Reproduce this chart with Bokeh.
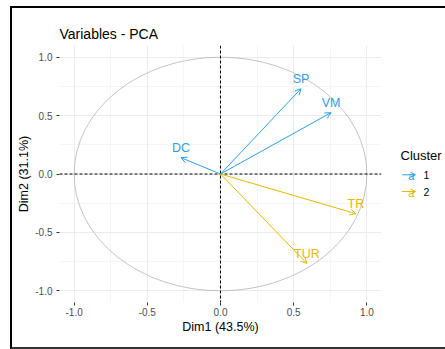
from bokeh.plotting import figure
from bokeh.layouts import row
from bokeh.models import (ColumnDataSource, Arrow, OpenHead, Span,
                          FixedTicker, Range1d)
from bokeh.embed import file_html
from bokeh.resources import INLINE
from bokeh.core.properties import value

# PCA variable coordinates on the first two dimensions
variables = ["SP", "VM", "DC", "TR", "TUR"]
dim1 = [0.55, 0.755, -0.27, 0.925, 0.59]
dim2 = [0.73, 0.525, 0.14, -0.34, -0.765]
cluster = ["1", "1", "1", "2", "2"]

cluster_levels = ["1", "2"]
cluster_colors = ["#2E9FDF", "#E7B800"]

tick_values = [-1.0, -0.5, 0.0, 0.5, 1.0]
tick_labels = ["-1.0", "-0.5", "0.0", "0.5", "1.0"]
minor_values = [-0.75, -0.25, 0.25, 0.75]

FONT = "Liberation Sans"
color_of = dict(zip(cluster_levels, cluster_colors))
colors = [color_of[c] for c in cluster]

src = ColumnDataSource(dict(x=dim1, y=dim2, name=variables, color=colors))

# ---- main panel -------------------------------------------------------
p = figure(frame_width=322, frame_height=257,
           x_range=Range1d(-1.1, 1.1), y_range=Range1d(-1.1, 1.1),
           min_border_left=47, min_border_right=5,
           min_border_top=37, min_border_bottom=45,
           title="Variables - PCA",
           x_axis_label="Dim1 (43.5%)", y_axis_label="Dim2 (31.1%)",
           output_backend="svg", toolbar_location=None)

p.background_fill_color = "white"
p.border_fill_color = "white"
p.outline_line_color = None

p.title.text_font = FONT
p.title.text_font_size = "14px"
p.title.text_font_style = "normal"
p.title.text_color = "black"
p.title.align = "left"
p.title.standoff = 7

labels = dict(zip(tick_values, tick_labels))
for ax in (p.xaxis[0], p.yaxis[0]):
    ax.ticker = FixedTicker(ticks=tick_values)
    ax.major_label_overrides = labels
    ax.axis_line_color = None
    ax.major_tick_in = 0
    ax.major_tick_out = 3
    ax.major_tick_line_color = "#333333"
    ax.major_tick_line_width = 1
    ax.minor_tick_line_color = None
    ax.major_label_text_font = FONT
    ax.major_label_text_font_size = "10px"
    ax.major_label_text_color = "#4d4d4d"
    ax.axis_label_text_font = FONT
    ax.axis_label_text_font_size = "12.5px"
    ax.axis_label_text_font_style = "normal"
    ax.axis_label_text_color = "black"
p.xaxis.major_label_standoff = 2
p.yaxis.major_label_standoff = 4
p.xaxis.axis_label_standoff = 1
p.yaxis.axis_label_standoff = 1

for g in (p.xgrid[0], p.ygrid[0]):
    g.ticker = FixedTicker(ticks=tick_values, minor_ticks=minor_values)
    g.grid_line_color = "#ebebeb"
    g.grid_line_width = 1
    g.minor_grid_line_color = "#f0f0f0"
    g.minor_grid_line_width = 0.7

# correlation circle
p.ellipse(x=0, y=0, width=2, height=2, fill_color=None,
          line_color="#bdbdbd", line_width=0.9)

# reference lines through the origin
for dim in ("width", "height"):
    p.add_layout(Span(location=0, dimension=dim, line_color="black",
                      line_width=1, line_dash="3 2"))

# variable arrows
for x, y, c in zip(dim1, dim2, colors):
    p.add_layout(Arrow(x_start=0, y_start=0, x_end=x, y_end=y,
                       line_color=c, line_width=1,
                       end=OpenHead(size=6, line_color=c, line_width=1)))

p.text(x="x", y="y", text="name", text_color="color", source=src,
       text_align="center", text_baseline="middle", y_offset=-9.5,
       text_font=value(FONT), text_font_size="12.5px")

# ---- legend strip: its frame lines up with the main panel's frame -----
# coordinates below are page pixels (x right, y down)
leg = figure(width=59, height=339,
             x_range=Range1d(386, 445), y_range=Range1d(302, 45),
             min_border_left=0, min_border_right=0,
             min_border_top=37, min_border_bottom=45,
             x_axis_location=None, y_axis_location=None,
             output_backend="svg", toolbar_location=None)
leg.grid.visible = False
leg.outline_line_color = None
leg.background_fill_color = "white"
leg.border_fill_color = "white"

leg.text(x=[400], y=[155], text=["Cluster"], text_color="black",
         text_baseline="middle", text_font=value(FONT),
         text_font_size="13px")

key_y = [174.3 + i * 16.7 for i in range(len(cluster_levels))]
for ky, c in zip(key_y, cluster_colors):
    leg.add_layout(Arrow(x_start=401.7, y_start=ky, x_end=415, y_end=ky,
                         line_color=c, line_width=1,
                         end=OpenHead(size=5, line_color=c, line_width=1)))
leg.text(x=[410.7] * len(key_y), y=[ky + 1 for ky in key_y],
         text=["a"] * len(key_y), text_color=cluster_colors,
         text_align="center", text_baseline="middle",
         text_font=value(FONT), text_font_size="11px")
leg.text(x=[423] * len(key_y), y=key_y, text=cluster_levels,
         text_color="black", text_baseline="middle",
         text_font=value(FONT), text_font_size="10.5px")

layout = row(p, leg, spacing=0,
             styles={"margin": "6px 0 0 10px",
                     "border-left": "2px solid black",
                     "border-top": "2px solid black",
                     "border-bottom": "2px solid #333333"})

open("out.html", "w").write(file_html(layout, INLINE))
